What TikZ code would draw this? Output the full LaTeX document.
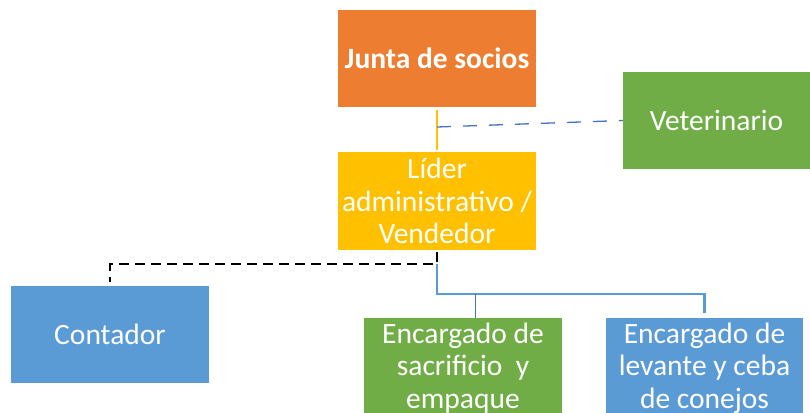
\documentclass[tikz,border=0pt]{standalone}
\usepackage{fontspec}
\setmainfont{Carlito}
\definecolor{corange}{HTML}{ED7D31}
\definecolor{cyellow}{HTML}{FFC000}
\definecolor{cgreen}{HTML}{70AD47}
\definecolor{cblue}{HTML}{5B9BD5}
\definecolor{cdblue}{HTML}{4472C4}
\begin{document}
\begin{tikzpicture}[x=1pt,y=-1pt,
  box/.style={inner sep=0pt,align=center,text=white,
    font=\fontsize{29.5}{32.5}\selectfont},
  yline/.style={draw=cyellow,line width=2pt},
  vdash/.style={draw=cdblue,line width=1.3pt,dash pattern=on 14pt off 12pt},
  kdash/.style={draw=black,line width=2.5pt,dash pattern=on 10pt off 6pt},
  bline/.style={draw=cblue,line width=2.5pt},
  thinb/.style={draw=cdblue,line width=1pt}]
\useasboundingbox (0,0) rectangle (810,412);
\clip (0,0) rectangle (810,412);
\node[box,fill=corange,minimum width=198pt,minimum height=97pt,font=\fontsize{29.5}{32.5}\selectfont\bfseries] (junta) at (437,58.5) {Junta de socios};
\node[box,fill=cyellow,minimum width=198pt,minimum height=98pt] (lider) at (437,201) {Líder\\administrativo /\\Vendedor};
\node[box,fill=cgreen,minimum width=187pt,minimum height=97pt] (vet) at (716.5,120.5) {Veterinario};
\node[box,fill=cblue,minimum width=198pt,minimum height=97pt] (cont) at (110,334.5) {Contador};
\node[box,fill=cgreen,minimum width=198pt,minimum height=100pt] (sacr) at (463,368) {Encargado de\\sacrificio\ \ y\\empaque};
\node[box,fill=cblue,minimum width=197pt,minimum height=100pt] (lev) at (704.5,368) {Encargado de\\levante y ceba\\de conejos};
% connectors
\draw[yline,shorten <=3pt,shorten >=2pt] (junta.south) -- (lider.north);
\coordinate (j) at (437,127);
\draw[vdash] (j) -- (vet.west);
\coordinate (split) at (437,264);
\coordinate (bus) at (437,294);
\draw[kdash,shorten <=2pt] (lider.south) -- (split) -| ([yshift=4pt]cont.north);
\draw[bline] (split) -- (bus) -| ([yshift=5pt]lev.north);
\draw[thinb] ([xshift=12pt]sacr.north) -- ([xshift=12pt]sacr.north |- bus);
\end{tikzpicture}
\end{document}
